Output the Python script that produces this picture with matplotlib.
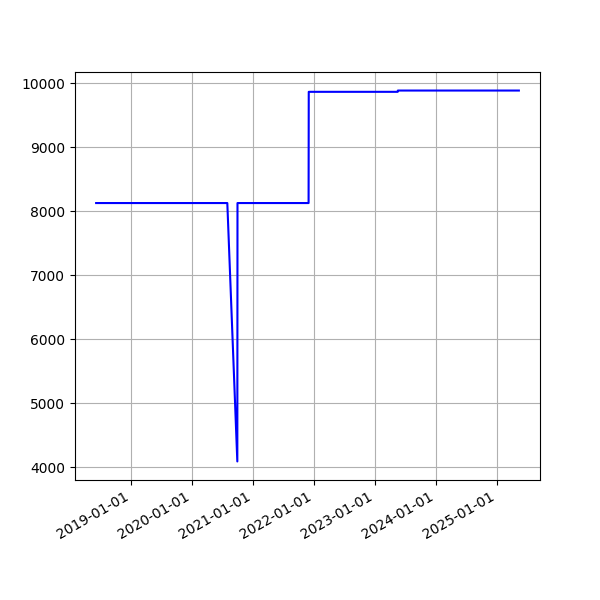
import pandas as pd
import matplotlib
matplotlib.use('Agg')
import matplotlib.pyplot as plt
import matplotlib.dates as mdates

# 数据点
dates = ['2018-06-06', '2020-07-31', '2020-09-29', '2020-09-30',
         '2021-11-30', '2021-12-01', '2023-05-18', '2023-05-19', '2025-05-13']
values = [8128, 8128, 4090, 8128, 8128, 9866, 9866, 9886, 9886]

df = pd.DataFrame({'date': pd.to_datetime(dates), 'value': values})

fig, ax = plt.subplots(figsize=(6, 6), dpi=100)
ax.plot(df['date'], df['value'], color='blue')
ax.xaxis.set_major_locator(mdates.YearLocator())
ax.xaxis.set_major_formatter(mdates.DateFormatter('%Y-%m-%d'))
ax.grid(True)
fig.autofmt_xdate()
fig.savefig('out.png')
